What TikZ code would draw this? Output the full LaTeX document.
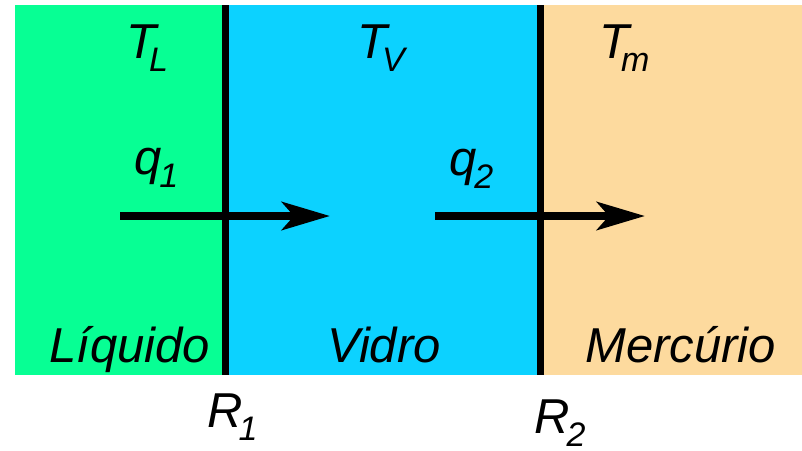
\documentclass[tikz,border=0pt]{standalone}
\usepackage{fontspec}
\setmainfont{Liberation Sans}
\usetikzlibrary{arrows.meta,positioning}

\definecolor{liqgreen}{RGB}{7,255,148}
\definecolor{vidblue}{RGB}{12,210,255}
\definecolor{mercorange}{RGB}{253,218,158}

\newcommand{\subtxt}[2][0pt]{\kern#1\raisebox{-13pt}{\fontsize{34}{40}\selectfont #2}}

\tikzset{
  lbl/.style={anchor=base west, inner sep=0pt, font=\fontsize{49}{58}\selectfont\itshape},
  wall/.style={line width=7pt},
  flux/.style={line width=8pt, -{Stealth[length=48pt,width=28pt,inset=12pt]}},
}

\begin{document}
\begin{tikzpicture}[x=1pt,y=-1pt]
    \useasboundingbox (0,0) rectangle (802,450);
    % camadas
    \fill[liqgreen] (15,5) rectangle (225,375);
    \fill[vidblue] (225,5) rectangle (540,375);
    \fill[mercorange] (540,5) rectangle (802,375);
    % paredes
    \coordinate (w1top) at (225,5);
    \coordinate (w1bot) at (225,375);
    \coordinate (w2top) at (540,5);
    \coordinate (w2bot) at (540,375);
    \draw[wall] (w1top) -- (w1bot);
    \draw[wall] (w2top) -- (w2bot);
    % fluxos de calor
    \coordinate (q1a) at (120,216);
    \coordinate (q1b) at (330,216);
    \coordinate (q2a) at (435,216);
    \coordinate (q2b) at (645,216);
    \draw[flux] (q1a) -- (q1b);
    \draw[flux] (q2a) -- (q2b);
    % temperaturas
    \node (tl) [lbl] at (126,58) {T\subtxt[-7pt]{L}};
    \node (tv) [lbl] at (357,58) {T\subtxt[-5pt]{V}};
    \node (tm) [lbl] at (599,58) {T\subtxt[-8pt]{m}};
    % calor
    \node (q1) [lbl] at (134,174) {q\subtxt[-2pt]{1}};
    \node (q2) [lbl] at (449,175) {q\subtxt[-2pt]{2}};
    % meios
    \node (liq) [lbl] at (49,362) {Líquido};
    \node (vid) [lbl] at (327,362) {Vidro};
    \node (mer) [lbl] at (585,362) {Mercúrio};
    % resistencias
    \node (r1) [lbl] at (207,427) {R\subtxt[-4pt]{1}};
    \node (r2) [lbl] at (534,433) {R\subtxt[-3pt]{2}};
\end{tikzpicture}
\end{document}
